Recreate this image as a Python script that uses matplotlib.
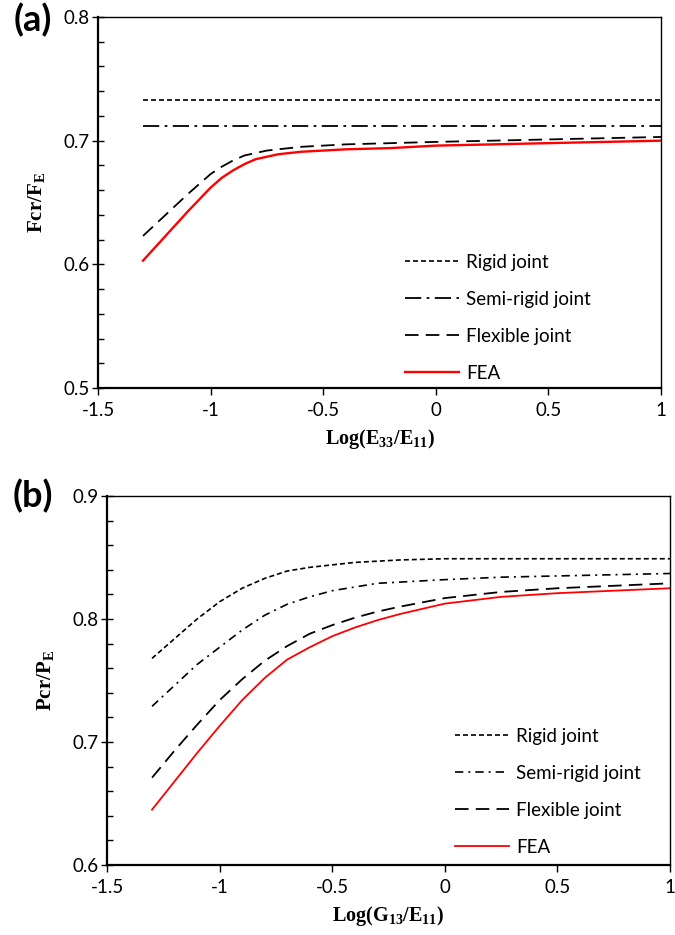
import matplotlib
matplotlib.use('Agg')
import matplotlib.pyplot as plt
from matplotlib.ticker import MultipleLocator

plt.rcParams['font.family'] = ['Lato', 'DejaVu Sans']
plt.rcParams['mathtext.fontset'] = 'custom'
plt.rcParams['mathtext.rm'] = 'Liberation Serif'
plt.rcParams['mathtext.bf'] = 'Liberation Serif:bold'

labels = ['Rigid joint', 'Semi-rigid joint', 'Flexible joint', 'FEA']

# panel (a): Log(E33/E11)
xa = [-1.3, -1.2, -1.1, -1.0, -0.95, -0.9, -0.85, -0.8, -0.75, -0.7, -0.6, -0.5, -0.4, -0.2, 0.0, 0.25, 0.5, 0.75, 1.0]
rigid_a = [0.733] * len(xa)
semi_a = [0.712] * len(xa)
flex_a = [0.623, 0.640, 0.657, 0.673, 0.679, 0.684, 0.688, 0.690, 0.692, 0.693, 0.695, 0.696, 0.697, 0.698, 0.699, 0.700, 0.701, 0.702, 0.703]
fea_a = [0.603, 0.623, 0.643, 0.662, 0.670, 0.676, 0.681, 0.685, 0.687, 0.689, 0.691, 0.692, 0.693, 0.694, 0.696, 0.697, 0.698, 0.699, 0.700]

# panel (b): Log(G13/E11)
xb = [-1.3, -1.2, -1.1, -1.0, -0.9, -0.8, -0.7, -0.6, -0.5, -0.4, -0.3, -0.2, 0.0, 0.25, 0.5, 0.75, 1.0]
rigid_b = [0.768, 0.784, 0.800, 0.814, 0.825, 0.833, 0.839, 0.842, 0.844, 0.846, 0.847, 0.848, 0.849, 0.849, 0.849, 0.849, 0.849]
semi_b = [0.729, 0.746, 0.763, 0.777, 0.791, 0.803, 0.812, 0.818, 0.823, 0.826, 0.829, 0.830, 0.832, 0.834, 0.835, 0.836, 0.837]
flex_b = [0.671, 0.693, 0.714, 0.734, 0.751, 0.766, 0.778, 0.788, 0.795, 0.801, 0.806, 0.810, 0.817, 0.822, 0.825, 0.827, 0.829]
fea_b = [0.645, 0.668, 0.691, 0.713, 0.734, 0.752, 0.767, 0.777, 0.786, 0.793, 0.799, 0.804, 0.8125, 0.818, 0.821, 0.823, 0.825]

fig = plt.figure(figsize=(6.75, 9.35), dpi=100)
ax1 = fig.add_axes([98 / 675, 1 - 388 / 935, 563 / 675, 371 / 935])
ax2 = fig.add_axes([107 / 675, 1 - 865 / 935, 563 / 675, 369 / 935])


def style(ax, ylo, yhi):
    ax.set_xlim(-1.5, 1)
    ax.set_ylim(ylo, yhi)
    ax.yaxis.set_minor_locator(MultipleLocator(0.02))
    ax.set_xticks([-1.5, -1, -0.5, 0, 0.5, 1])
    ax.set_xticklabels(['-1.5', '-1', '-0.5', '0', '0.5', '1'])
    ticks = [ylo, ylo + 0.1, ylo + 0.2, yhi]
    ax.set_yticks(ticks)
    ax.set_yticklabels(['%.1f' % v for v in ticks])
    ax.tick_params(axis='x', direction='out', length=5, width=1, labelsize=13.5, pad=5)
    ax.tick_params(axis='y', which='major', direction='inout', length=8, width=1, labelsize=13.5, pad=2)
    ax.tick_params(axis='y', which='minor', direction='in', length=4, width=1)
    for s in ['left', 'bottom']:
        ax.spines[s].set_linewidth(1.6)
    for s in ['top', 'right']:
        ax.spines[s].set_linewidth(1.0)


style(ax1, 0.5, 0.8)
ax1.plot(xa, rigid_a, color='black', lw=1.2, linestyle=(0, (3, 1.8)), label=labels[0])
ax1.plot(xa, semi_a, color='black', lw=1.3, linestyle=(0, (9, 3, 1.5, 3)), label=labels[1])
ax1.plot(xa, flex_a, color='black', lw=1.3, linestyle=(0, (7.5, 4)), label=labels[2])
ax1.plot(xa, fea_a, color='red', lw=1.7, label=labels[3])
ax1.set_ylabel(r'$\mathbf{Fcr/F_E}$', fontsize=15, labelpad=12)
ax1.set_xlabel(r'$\mathbf{Log(E_{33}/E_{11})}$', fontsize=14.5, labelpad=6)
ax1.legend(loc='upper left', bbox_to_anchor=(0.545, 0.362), frameon=False, fontsize=13.5,
           handlelength=2.9, handletextpad=0.35, labelspacing=1.07, borderpad=0, borderaxespad=0)

style(ax2, 0.6, 0.9)
ax2.plot(xb, rigid_b, color='black', lw=1.2, linestyle=(0, (3, 1.8)), label=labels[0])
ax2.plot(xb, semi_b, color='black', lw=1.2, linestyle=(0, (5, 3, 1.2, 3)), label=labels[1])
ax2.plot(xb, flex_b, color='black', lw=1.3, linestyle=(0, (7.5, 4)), label=labels[2])
ax2.plot(xb, fea_b, color='red', lw=1.3, label=labels[3])
ax2.set_ylabel(r'$\mathbf{Pcr/P_E}$', fontsize=15, labelpad=12)
ax2.set_xlabel(r'$\mathbf{Log(G_{13}/E_{11})}$', fontsize=14.5, labelpad=6)
ax2.legend(loc='upper left', bbox_to_anchor=(0.618, 0.372), frameon=False, fontsize=13.5,
           handlelength=2.9, handletextpad=0.35, labelspacing=1.07, borderpad=0, borderaxespad=0)

fig.text(33 / 675, 1 - 20 / 935, '(a)', fontsize=26, fontweight='bold', ha='center', va='center')
fig.text(33 / 675, 1 - 496 / 935, '(b)', fontsize=26, fontweight='bold', ha='center', va='center')

fig.savefig('out.png', dpi=100)
